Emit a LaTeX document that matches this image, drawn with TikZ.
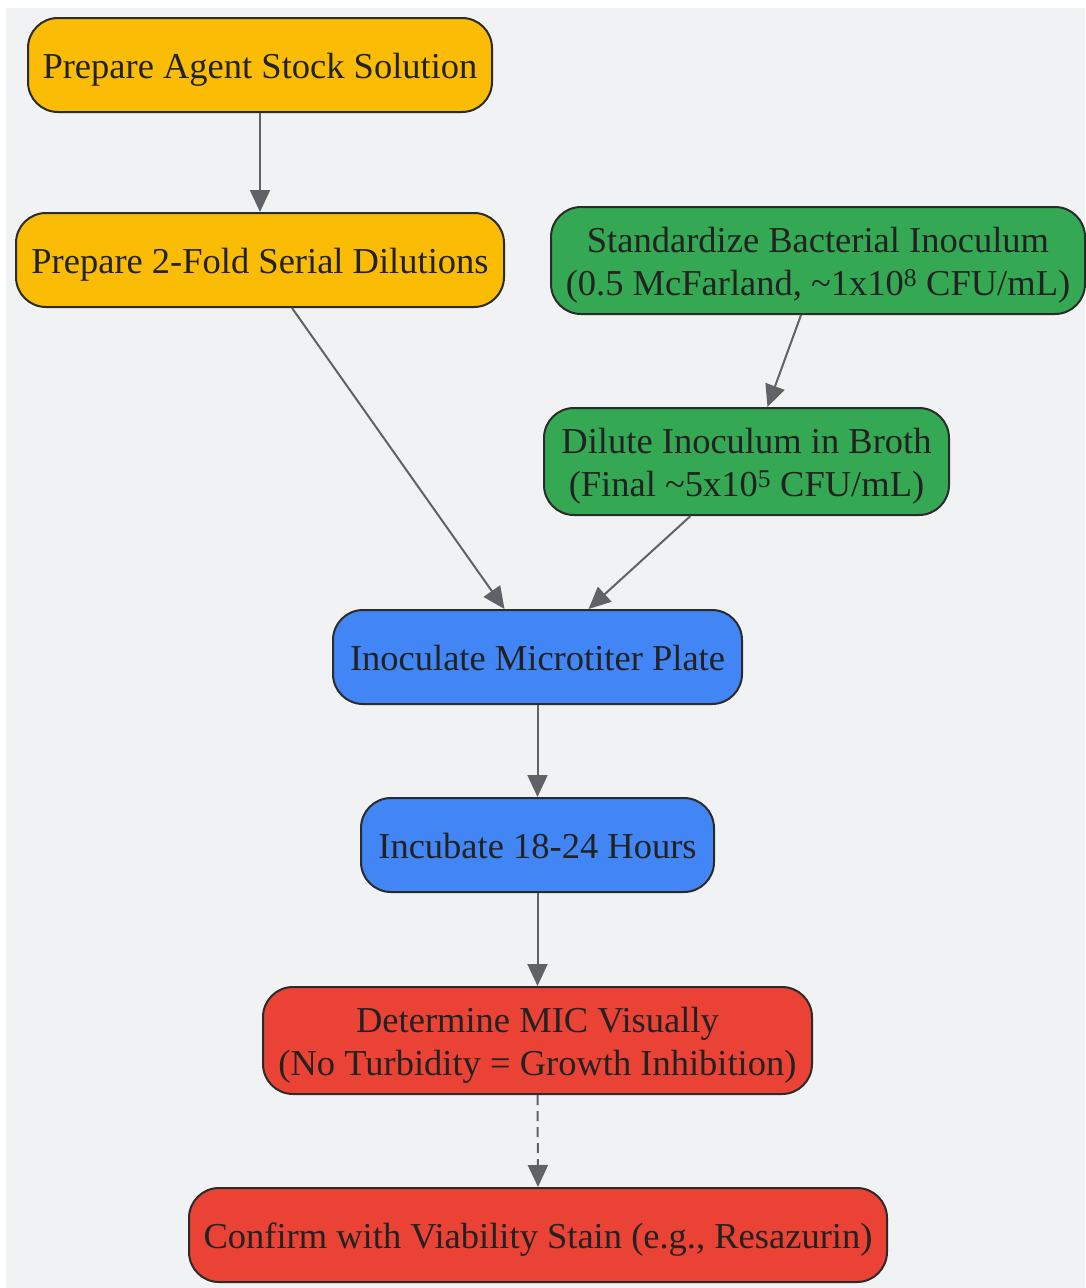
\documentclass[tikz,border=0pt]{standalone}
\usepackage{fontspec}
\setmainfont{Liberation Serif}
\usetikzlibrary{arrows.meta,calc}
\definecolor{bg}{HTML}{F1F2F4}
\definecolor{yel}{HTML}{FBBC05}
\definecolor{grn}{HTML}{34A853}
\definecolor{blu}{HTML}{4285F4}
\definecolor{rd}{HTML}{EA4335}
\definecolor{edgec}{HTML}{5F6368}
\definecolor{txt}{HTML}{222222}
\definecolor{bord}{HTML}{2B2B2B}
\newcommand{\topstrut}{\rule{0pt}{36pt}}
\newcommand{\botstrut}{\rule[-9pt]{0pt}{0pt}}
\begin{document}
\begin{tikzpicture}[x=1pt,y=-1pt,
 box/.style={draw=bord,line width=2pt,rounded corners=30pt,align=center,text=txt,font=\fontsize{36.5}{42.5}\selectfont,inner sep=0pt},
 arr/.style={draw=edgec,line width=2pt,-{Triangle[length=22pt,width=20pt]}}]
\useasboundingbox (0,0) rectangle (1085,1288);
\fill[bg] (6,8) rectangle (1085,1288);
\node[box,fill=yel,minimum width=464pt,minimum height=94pt] (A) at (260,65) {\topstrut Prepare Agent Stock Solution\botstrut};
\node[box,fill=yel,minimum width=488pt,minimum height=94pt] (B) at (260,260) {\topstrut Prepare 2-Fold Serial Dilutions\botstrut};
\node[box,fill=grn,minimum width=534pt,minimum height=107pt] (C) at (818,260.5) {\topstrut Standardize Bacterial Inoculum\\(0.5 McFarland, \textasciitilde1x10\textsuperscript{8} CFU/mL)\botstrut};
\node[box,fill=grn,minimum width=405pt,minimum height=107pt] (D) at (746.5,461.5) {\topstrut Dilute Inoculum in Broth\\(Final \textasciitilde5x10\textsuperscript{5} CFU/mL)\botstrut};
\node[box,fill=blu,minimum width=409pt,minimum height=94pt] (E) at (537.5,657) {\topstrut Inoculate Microtiter Plate\botstrut};
\node[box,fill=blu,minimum width=353pt,minimum height=94pt] (F) at (537.5,845) {\topstrut Incubate 18-24 Hours\botstrut};
\node[box,fill=rd,minimum width=549pt,minimum height=107pt] (G) at (537.5,1040.5) {\topstrut Determine MIC Visually\\(No Turbidity = Growth Inhibition)\botstrut};
\node[box,fill=rd,minimum width=698pt,minimum height=94pt] (H) at (538,1235) {\topstrut Confirm with Viability Stain (e.g., Resazurin)\botstrut};
\draw[arr] (A.south) -- (B.north);
\draw[arr] ($(B.south)+(32pt,0)$) -- ($(E.north)+(-33pt,0)$);
\draw[arr] ($(C.south)+(-17pt,0)$) -- ($(D.north)+(21pt,0)$);
\draw[arr] ($(D.south)+(-56pt,0)$) -- ($(E.north)+(51pt,0)$);
\draw[arr] (E.south) -- (F.north);
\draw[arr] (F.south) -- (G.north);
\draw[arr,dash pattern=on 10pt off 6pt] (G.south) -- (H.north);
\end{tikzpicture}
\end{document}
